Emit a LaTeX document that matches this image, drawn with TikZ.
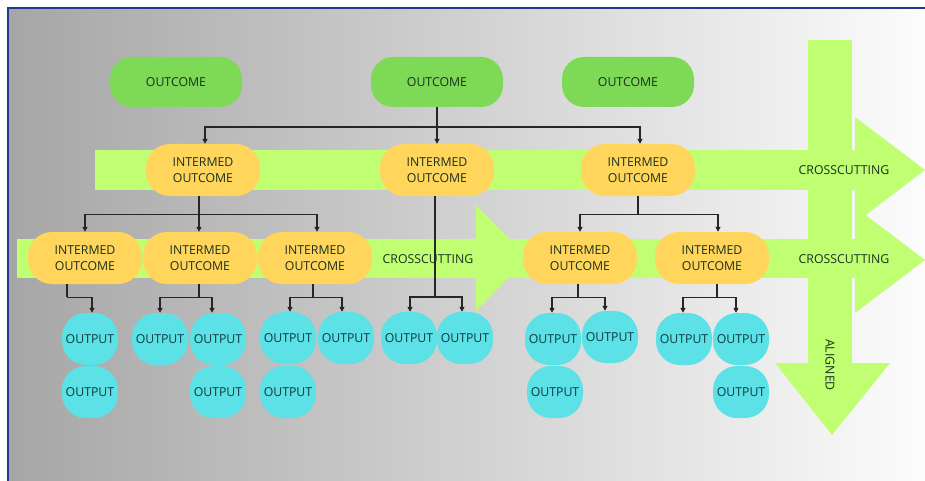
\documentclass[tikz,border=0pt]{standalone}
\usepackage{fontspec}
\setmainfont{Open Sans}
\usetikzlibrary{arrows.meta}
\definecolor{bgL}{HTML}{A6A6A6}
\definecolor{bgR}{HTML}{FCFCFC}
\definecolor{frameblue}{HTML}{1F3D8C}
\definecolor{outgreen}{HTML}{7ED957}
\definecolor{intyellow}{HTML}{FFD65B}
\definecolor{outcyan}{HTML}{5CE1E6}
\definecolor{lime}{HTML}{C1FF72}
\definecolor{txt}{HTML}{1A3020}
\definecolor{txtcyan}{HTML}{0E3A42}
\begin{document}
\begin{tikzpicture}[x=1pt,y=-1pt,
  lbl/.style={font=\fontsize{12.3}{15.5}\selectfont, text=txt, inner sep=0pt},
  outcomebox/.style={lbl, fill=outgreen, rounded corners=22pt, minimum width=132pt, minimum height=50pt},
  intbox/.style={lbl, fill=intyellow, rounded corners=24pt, minimum width=114pt, minimum height=52pt, align=center},
  outbox/.style={lbl, text=txtcyan, fill=outcyan, rounded corners=24pt, minimum width=56pt, minimum height=52pt},
  conn/.style={draw=black!85, line width=1.4pt},
  arr/.style={conn, -{Triangle[length=5pt,width=5pt]}}
]
\useasboundingbox (0,0) rectangle (925,481);
\fill[white] (0,0) rectangle (925,481);
\shade[left color=bgL, right color=bgR] (8,8) rectangle (925,481);
\draw[frameblue, line width=2pt] (8,481) -- (8,8) -- (925,8);

% crosscutting bands and aligned arrow
\fill[lime] (95,150) rectangle (855,190);
\fill[lime] (855,117) -- (925,170) -- (855,223) -- cycle;
\fill[lime] (17,239) rectangle (476,278);
\fill[lime] (476,205) -- (528,258) -- (476,311) -- cycle;
\fill[lime] (500,239) rectangle (855,278);
\fill[lime] (855,207) -- (925,260) -- (855,313) -- cycle;
\fill[lime] (808,40) rectangle (852,363);
\fill[lime] (775,363) -- (890,363) -- (832,435) -- cycle;

\node[lbl] (c1) at (844,170) {CROSSCUTTING};
\node[lbl] (c2) at (844,259) {CROSSCUTTING};
\node[lbl] (c3) at (428,259) {CROSSCUTTING};
\node[lbl, rotate=-90] (al) at (830,365) {ALIGNED};

% outcomes
\node[outcomebox] (o1) at (176,82) {OUTCOME};
\node[outcomebox] (o2) at (437,82) {OUTCOME};
\node[outcomebox] (o3) at (628,82) {OUTCOME};

% intermediate outcomes, row 2
\node[intbox] (i1) at (203,170) {INTERMED\\OUTCOME};
\node[intbox] (i2) at (437,170) {INTERMED\\OUTCOME};
\node[intbox] (i3) at (638,170) {INTERMED\\OUTCOME};

% intermediate outcomes, row 3
\node[intbox] (m1) at (85,258) {INTERMED\\OUTCOME};
\node[intbox] (m2) at (200,258) {INTERMED\\OUTCOME};
\node[intbox] (m3) at (315,258) {INTERMED\\OUTCOME};
\node[intbox] (m4) at (580,258) {INTERMED\\OUTCOME};
\node[intbox] (m5) at (712,258) {INTERMED\\OUTCOME};

% outputs
\node[outbox] (p1) at (90,339) {OUTPUT};
\node[outbox] (p2) at (90,392) {OUTPUT};
\node[outbox] (p3) at (160,339) {OUTPUT};
\node[outbox] (p4) at (218,339) {OUTPUT};
\node[outbox] (p5) at (218,392) {OUTPUT};
\node[outbox] (p6) at (288,338) {OUTPUT};
\node[outbox] (p7) at (346,338) {OUTPUT};
\node[outbox] (p8) at (288,392) {OUTPUT};
\node[outbox] (p9) at (409,338) {OUTPUT};
\node[outbox] (p10) at (465,338) {OUTPUT};
\node[outbox] (p11) at (553,339) {OUTPUT};
\node[outbox] (p12) at (610,337) {OUTPUT};
\node[outbox] (p13) at (555,392) {OUTPUT};
\node[outbox] (p14) at (684,339) {OUTPUT};
\node[outbox] (p15) at (741,339) {OUTPUT};
\node[outbox] (p16) at (741,392) {OUTPUT};

% row 1 -> row 2
\draw[conn] (o2.south) -- ++(0,20) coordinate (j0);
\draw[arr] (j0) -| ([xshift=2pt]i1.north);
\draw[arr] (j0) -- (i2.north);
\draw[arr] (j0) -| ([xshift=2pt]i3.north);

% row 2 -> row 3
\draw[conn] ([xshift=-4pt]i1.south) -- ++(0,18) coordinate (j1);
\draw[arr] (j1) -| (m1.north);
\draw[arr] (j1) -- (j1 |- m2.north);
\draw[arr] (j1) -| ([xshift=2pt]m3.north);
\draw[conn] (i3.south) -- ++(0,18) coordinate (j2);
\draw[arr] (j2) -| (m4.north);
\draw[arr] (j2) -| ([xshift=6pt]m5.north);

% row 3 -> outputs
\draw[conn] ([xshift=-18pt]m1.south) -- ++(0,13) coordinate (k1);
\draw[arr] (k1) -| ([xshift=2pt]p1.north);
\draw[conn] ([xshift=-1pt]m2.south) -- ++(0,13) coordinate (k2);
\draw[arr] (k2) -| (p3.north);
\draw[arr] (k2) -| ([xshift=-6pt]p4.north);
\draw[conn] ([xshift=-2pt]m3.south) -- ++(0,13) coordinate (k3);
\draw[arr] (k3) -| ([xshift=2pt]p6.north);
\draw[arr] (k3) -| ([xshift=-4pt]p7.north);
\draw[conn] ([xshift=-2pt]i2.south) -- (435,297) coordinate (k4);
\draw[arr] (k4) -| ([xshift=1pt]p9.north);
\draw[arr] (k4) -| ([xshift=-3pt]p10.north);
\draw[conn] ([xshift=-2pt]m4.south) -- ++(0,13) coordinate (k5);
\draw[arr] (k5) -| ([xshift=-1pt]p11.north);
\draw[arr] (k5) -| ([xshift=-5pt]p12.north);
\draw[conn] ([xshift=5pt]m5.south) -- ++(0,13) coordinate (k6);
\draw[arr] (k6) -| ([xshift=-1pt]p14.north);
\draw[arr] (k6) -| ([xshift=-5pt]p15.north);
\end{tikzpicture}
\end{document}
